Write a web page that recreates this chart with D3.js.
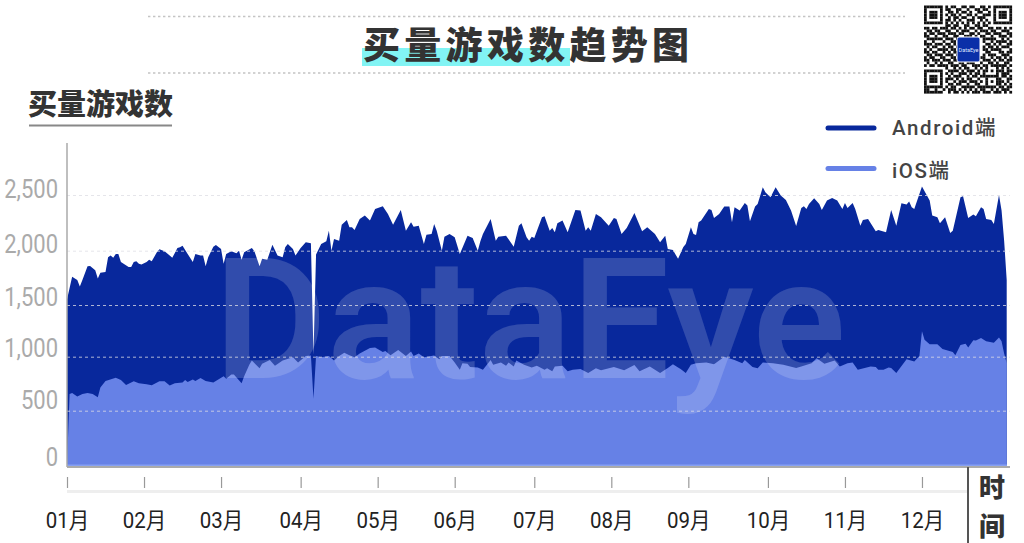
<!DOCTYPE html>
<html><head><meta charset="utf-8">
<script src="https://cdn.jsdelivr.net/npm/d3@7"></script>
<style>
html,body{margin:0;padding:0;background:#fff;overflow:hidden}
svg{display:block}
</style></head><body>
<svg id="c" width="1024" height="543"></svg>
<script>
const title = "买量游戏数趋势图";
const yTitle = "买量游戏数";
const xTitle = ["时","间"];
const legendNames = ["Android端","iOS端"];
const monthLabels = ["01月","02月","03月","04月","05月","06月","07月","08月","09月","10月","11月","12月"];
const monthDays = [0,30,60,91,121,151,182,212,242,273,303,333];
const yTicks = [0,500,1000,1500,2000,2500];

const androidDays = [0,2,4,5,6,8,9,11,12,13,15,16,17,18,19,20,21,24,25,26,27,28,29,31,32,33,35,36,38,40,41,42,43,44,45,47,49,50,52,53,54,55,57,58,60,61,62,64,66,67,68,69,72,73,75,76,78,80,82,84,85,86,88,89,91,93,95,96,97,99,101,102,103,104,106,107,109,110,
111,112,114,116,118,120,123,125,127,130,132,134,135,137,139,140,142,143,144,146,147,149,151,153,156,158,160,161,162,165,167,168,171,174,176,177,179,180,181,182,185,186,188,189,190,191,193,195,198,200,202,203,204,206,208,211,213,214,216,218,221,224,226,229,231,233,234,236,238,240,
241,243,244,245,246,247,250,251,252,254,256,258,259,260,262,264,265,266,268,269,271,272,274,276,278,280,282,284,286,287,288,289,291,293,294,296,298,300,302,303,304,306,307,309,310,312,315,316,319,321,323,325,327,328,329,330,333,336,337,339,340,342,344,345,348,349,351,353,354,356,357,358,360,361,363,364,365,366];
const androidValues = [1550,1760,1730,1670,1730,1856,1859,1820,1745,1796,1805,1940,1955,1934,1970,1970,1895,1850,1850,1895,1904,1880,1874,1895,1916,1904,1985,2012,1994,1955,1934,1979,2024,2030,2045,1970,1895,1970,1955,1955,1856,1940,2036,2051,2015,1880,1970,1994,1976,2000,1916,1985,2024,1994,1856,1925,1916,2054,1955,1940,2030,2060,2015,1955,2024,2075,2066,1020,1964,2060,2084,2180,2000,2105,2090,2234,2276,2210,
2210,2186,2285,2315,2270,2375,2399,2330,2234,2366,2180,2255,2216,2225,2060,2144,2150,2240,2180,2000,2126,2150,2120,1970,2135,2114,2000,2084,2150,2285,2090,2126,2135,2036,2225,2246,2120,2090,2126,2114,2300,2309,2180,2204,2165,2246,2270,2165,2366,2360,2180,2210,2180,2330,2300,2225,2294,2285,2150,2204,2339,2174,2210,2150,2075,2135,2015,2006,1925,2030,
2060,2210,2150,2141,2255,2270,2375,2366,2294,2330,2396,2396,2255,2390,2360,2429,2405,2264,2396,2420,2570,2525,2480,2570,2495,2456,2360,2222,2384,2399,2375,2420,2471,2420,2366,2450,2474,2450,2375,2429,2384,2429,2375,2225,2276,2285,2174,2186,2165,2366,2225,2426,2414,2441,2390,2375,2576,2450,2315,2300,2246,2300,2159,2180,2480,2489,2294,2324,2309,2390,2375,2285,2276,2240,2501,2360,2090,1730];

const iosDays = [0,1,2,4,6,8,10,12,13,15,19,21,23,25,26,28,31,33,36,38,40,42,45,46,47,49,50,52,54,57,61,62,64,65,68,69,71,72,75,76,79,81,84,88,90,93,95,96,97,99,102,104,106,108,110,
112,114,118,120,123,124,126,129,132,134,135,137,139,143,145,146,149,151,153,154,156,157,160,162,165,166,169,171,172,174,175,178,181,183,186,187,189,190,193,195,197,200,203,206,208,213,217,221,223,227,231,234,236,238,239,
241,243,245,249,252,256,260,263,264,267,269,271,275,279,284,286,290,292,295,299,301,304,306,308,313,315,316,318,320,321,323,327,330,332,333,334,336,339,341,345,346,348,350,351,353,354,356,358,361,363,364,365,366];
const iosValues = [0,655,664,631,655,664,655,625,715,775,805,784,739,760,772,754,745,736,772,772,733,754,760,784,766,790,775,802,775,760,820,796,835,835,754,820,925,964,892,934,970,916,964,994,946,1006,1012,610,1006,994,1006,964,1006,1039,1015,
994,1030,1084,1090,1045,1054,1015,1066,1006,1051,1006,1030,994,1012,976,1006,1006,946,880,940,934,904,901,880,970,925,946,916,946,910,964,925,901,916,880,892,865,910,916,865,880,886,850,892,874,904,874,922,865,910,850,895,931,901,886,
850,925,940,946,931,1000,970,940,970,904,892,946,940,925,895,910,940,985,934,964,910,940,946,880,910,904,880,880,901,895,850,976,955,1006,1246,1165,1120,1120,1075,1045,1015,1114,1126,1090,1159,1156,1180,1150,1135,1186,1150,1030,940];

const qrRows = [
"111111101011001101100110101111111",
"100000101100110010011011001000001",
"101110100110101101001100101011101",
"101110101011010011010011101011101",
"101110100101101100101110001011101",
"100000101101010011100101001000001",
"111111101010101010101010101111111",
"000000001101100110011011000000000",
"110110111011010101101100110110101",
"011011001100101110010111011001110",
"101101110111011001101001101110011",
"110010011001100111010110010011101",
"011111101110110000000011111001010",
"100100010011010000000010010111101",
"111011101101000000000001101010011",
"010110010110100000000010110101110",
"101001111011000000000011011110001",
"110110010101100000000001100011011",
"011011101110100000000010111001110",
"101100110011011000000110010110101",
"110111011101101101011011101011011",
"010010100110011011100100110100110",
"101101111011101100111011011111101",
"000000001001010110010101000101010",
"111111100111101011101011010111011",
"100000101010011101011010000101110",
"101110100101110010110111111101101",
"101110101110101011001001000110011",
"101110101001011101110101010111010",
"100000100110110010011001000110101",
"111111101011001111101111111011011",
"110010010111010101010110010101110",
"111111100101101010111011101110101"];

const svg = d3.select("#c");
const xScale = d3.scaleLinear().domain([0,366]).range([67,1006.7]);
const yScale = d3.scaleLinear().domain(yTicks).range([466,410.7,356.7,305,250.7,195]);
const CJK = "'Noto Sans CJK SC',sans-serif";
const NUM = "Roboto,'Noto Sans CJK SC',sans-serif";

// header
[16.5,73].forEach(y=>svg.append("line").attr("x1",148).attr("x2",905).attr("y1",y).attr("y2",y)
  .attr("stroke","#c4c4c4").attr("stroke-width",1.6).attr("stroke-dasharray","2.4 2.6"));
svg.append("rect").attr("x",362).attr("y",48).attr("width",208).attr("height",18).attr("fill","#82f4f4");
svg.append("text").attr("x",363).attr("y",59).text(title)
  .attr("font-family",CJK).attr("font-weight",900).attr("font-size",37).attr("letter-spacing",4.3).attr("fill","#333");
svg.append("text").attr("x",28).attr("y",114.5).text(yTitle)
  .attr("font-family",CJK).attr("font-weight",900).attr("font-size",29).attr("fill","#333");
svg.append("rect").attr("x",29).attr("y",124.5).attr("width",143).attr("height",2).attr("fill","#888");

// areas
const areaOf = (days,vals)=>d3.area().x((d,i)=>xScale(days[i])).y0(yScale(0)).y1(d=>yScale(d)).curve(d3.curveLinear)(vals);
svg.append("path").attr("d",areaOf(androidDays,androidValues)).attr("fill","#08289c");
svg.append("path").attr("d",areaOf(iosDays,iosValues)).attr("fill","#6681e6");
svg.append("rect").attr("x",67).attr("y",464.5).attr("width",940).attr("height",1.5).attr("fill","#86a0f2");

// watermark
svg.append("text").attr("x",214).attr("y",378).text("DataEye")
  .attr("font-family","Roboto,sans-serif").attr("font-weight",600).attr("font-size",168)
  .attr("textLength",632).attr("lengthAdjust","spacingAndGlyphs")
  .attr("fill","#fff").attr("fill-opacity",.17);

// y axis
const yAxis = d3.axisLeft(yScale).tickValues(yTicks).tickSize(-943).tickPadding(9).tickFormat(d3.format(","));
const gy = svg.append("g").attr("transform","translate(67,0)").call(yAxis);
gy.select(".domain").remove();
gy.selectAll(".tick line").attr("stroke","rgba(222,222,228,.78)").attr("stroke-dasharray","3 3").attr("stroke-width",1);
gy.selectAll(".tick").filter(d=>d===0).select("line").remove();
const labelShift = {0:-9,500:-10,1000:-8,1500:-8,2000:-6,2500:-6};
gy.selectAll(".tick text").attr("font-family",NUM).attr("font-size",25).attr("fill","#aaa")
  .attr("y",d=>labelShift[d])
  .each(function(){const n=this.getComputedTextLength();d3.select(this).attr("textLength",n*.88).attr("lengthAdjust","spacingAndGlyphs");});
svg.append("line").attr("x1",67).attr("x2",67).attr("y1",143).attr("y2",467).attr("stroke","#aaa").attr("stroke-width",1.5);
svg.append("line").attr("x1",67).attr("x2",1010).attr("y1",467).attr("y2",467).attr("stroke","#aaa").attr("stroke-width",2);

// x axis
svg.append("rect").attr("x",67).attr("y",490).attr("width",901).attr("height",3).attr("fill","#eee");
const xAxis = d3.axisBottom(xScale).tickValues(monthDays).tickSize(11).tickPadding(31).tickFormat((d,i)=>monthLabels[i]);
const gx = svg.append("g").attr("transform","translate(0,477)").call(xAxis);
gx.select(".domain").remove();
gx.selectAll(".tick line").attr("stroke","#999").attr("stroke-width",1.2);
gx.selectAll(".tick text").attr("font-family",NUM).attr("font-size",22).attr("fill","#222").attr("dy",0).attr("y",51)
  .each(function(){const n=this.getComputedTextLength();d3.select(this).attr("textLength",n*.93).attr("lengthAdjust","spacingAndGlyphs");});
svg.append("line").attr("x1",968).attr("x2",968).attr("y1",467).attr("y2",543).attr("stroke","#555").attr("stroke-width",2);
xTitle.forEach((t,i)=>svg.append("text").attr("x",992).attr("y",[497,535.5][i]).text(t).attr("text-anchor","middle")
  .attr("font-family",CJK).attr("font-weight",900).attr("font-size",26).attr("fill","#333"));

// legend
const legendColors = ["#08289c","#6681e6"];
legendNames.forEach((t,i)=>{
  const y=[128,168.5][i];
  svg.append("line").attr("x1",828).attr("x2",874).attr("y1",y).attr("y2",y)
    .attr("stroke",legendColors[i]).attr("stroke-width",5).attr("stroke-linecap","round");
  svg.append("text").attr("x",892).attr("y",[135,178][i]).text(t)
    .attr("font-family",NUM).attr("font-weight",500).attr("font-size",20.5).attr("letter-spacing",1.6).attr("fill","#444");
});

// QR
const qrS = 88/33;
const qr = svg.append("g").attr("transform","translate(924,5.5)").style("filter","blur(.45px)");
qrRows.forEach((r,j)=>r.split("").forEach((c,i)=>{ if(c==="1")
  qr.append("rect").attr("x",i*qrS).attr("y",j*qrS).attr("width",qrS+.1).attr("height",qrS+.1).attr("fill","#111");}));
svg.append("rect").attr("x",957).attr("y",37).attr("width",23).attr("height",25).attr("rx",2).attr("fill","#0a2fa8").attr("stroke","#fff").attr("stroke-width",1);
svg.append("text").attr("x",968.5).attr("y",52).text("DataEye").attr("text-anchor","middle")
  .attr("font-family","Roboto,sans-serif").attr("font-size",5.5).attr("fill","#dfe6ff");
</script>
</body></html>
